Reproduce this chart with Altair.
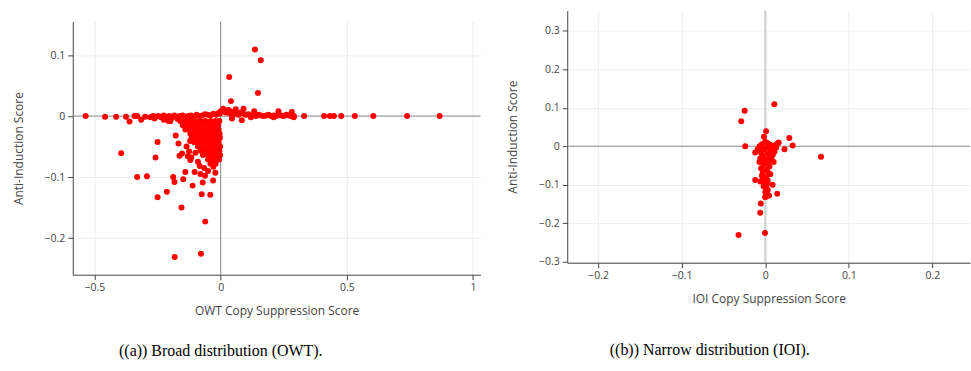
import altair as alt
import pandas as pd

# ---------------- Panel (a): OWT ----------------
owt_x = [
    # left band along y ~ 0
    -0.535, -0.458, -0.414, -0.375, -0.361, -0.341, -0.331, -0.315, -0.299, -0.279,
    -0.268, -0.258, -0.247, -0.236, -0.226, -0.215, -0.204, -0.193, -0.183, -0.172,
    -0.161, -0.150, -0.139, -0.128, -0.117, -0.106, -0.095, -0.084, -0.073, -0.062,
    -0.051, -0.040, -0.029, -0.018, -0.008, -0.262, -0.225, -0.200, -0.170, -0.003, 0.000,
    # right band along y ~ 0
    0.004, 0.012, 0.020, 0.028, 0.036, 0.044, 0.052, 0.060, 0.070, 0.080,
    0.090, 0.100, 0.110, 0.120, 0.130, 0.140, 0.150, 0.160, 0.170, 0.180,
    0.190, 0.200, 0.210, 0.220, 0.230, 0.240, 0.250, 0.260, 0.270, 0.280,
    0.290, 0.331, 0.410, 0.433, 0.449, 0.478, 0.532, 0.605, 0.739, 0.868,
    0.133, 0.091, 0.229, 0.282, 0.084, 0.032, 0.010, 0.060, 0.045, 0.120, 0.210, 0.290,
    # upper outliers
    0.136, 0.159, 0.034, 0.148, 0.041,
    # dense cluster below zero
    -0.200, -0.160, -0.140, -0.120, -0.100, -0.080, -0.060, -0.040, -0.020, -0.005,
    -0.150, -0.130, -0.110, -0.090, -0.070, -0.050, -0.030, -0.010,
    -0.140, -0.125, -0.105, -0.085, -0.065, -0.045, -0.025, -0.008,
    -0.120, -0.100, -0.080, -0.060, -0.040, -0.020, -0.004,
    -0.115, -0.095, -0.075, -0.055, -0.035, -0.015, -0.003,
    -0.105, -0.085, -0.065, -0.045, -0.025, -0.008,
    -0.090, -0.070, -0.050, -0.030, -0.012, -0.002,
    -0.080, -0.060, -0.040, -0.020, -0.005,
    -0.070, -0.050, -0.030, -0.012, -0.002,
    -0.050, -0.035, -0.020, -0.006,
    -0.040, -0.020,
    # scattered points below the cluster
    -0.394, -0.250, -0.258, -0.331, -0.292, -0.178, -0.167, -0.163, -0.153, -0.188,
    -0.183, -0.148, -0.140, -0.213, -0.250, -0.111, -0.103, -0.155, -0.075, -0.041,
    -0.061, -0.182, -0.078, -0.071, -0.030, -0.062, -0.080, -0.021, -0.029, -0.083,
    -0.116, -0.130, -0.120, -0.090, -0.065, -0.050, -0.135, -0.125, -0.100, -0.207,
    -0.126, -0.117, -0.121,
]
owt_y = [
    0.000, -0.001, -0.001, -0.001, -0.009, 0.000, 0.000, -0.006, -0.001, -0.002,
    0.000, -0.001, 0.000, -0.002, 0.001, -0.001, 0.000, -0.003, 0.001, -0.002,
    0.000, 0.001, -0.002, 0.000, 0.001, -0.001, 0.002, 0.000, 0.001, 0.003,
    0.002, 0.001, 0.004, 0.002, 0.005, -0.004, -0.006, -0.008, -0.005, 0.004, 0.008,
    0.008, 0.010, 0.006, 0.009, 0.004, 0.007, 0.003, 0.005, 0.002, 0.006,
    0.004, 0.002, 0.003, 0.001, 0.002, 0.000, 0.002, 0.001, 0.000, 0.001,
    0.002, 0.000, 0.001, 0.000, 0.002, 0.001, 0.000, 0.002, 0.001, 0.000,
    0.000, 0.000, 0.000, 0.000, 0.000, 0.000, 0.000, 0.000, 0.000, 0.000,
    0.008, 0.012, 0.008, 0.0065, -0.007, 0.010, 0.012, 0.011, -0.004, -0.002, -0.002, -0.002,
    0.109, 0.0915, 0.064, 0.038, 0.0245,
    -0.008, -0.008, -0.008, -0.008, -0.008, -0.008, -0.008, -0.008, -0.008, -0.008,
    -0.015, -0.015, -0.015, -0.015, -0.015, -0.015, -0.015, -0.015,
    -0.022, -0.022, -0.022, -0.022, -0.022, -0.022, -0.022, -0.022,
    -0.029, -0.029, -0.029, -0.029, -0.029, -0.029, -0.029,
    -0.036, -0.036, -0.036, -0.036, -0.036, -0.036, -0.036,
    -0.043, -0.043, -0.043, -0.043, -0.043, -0.043,
    -0.050, -0.050, -0.050, -0.050, -0.050, -0.050,
    -0.057, -0.057, -0.057, -0.057, -0.057,
    -0.064, -0.064, -0.064, -0.064, -0.064,
    -0.071, -0.071, -0.071, -0.071,
    -0.078, -0.078,
    -0.061, -0.0425, -0.068, -0.100, -0.0986, -0.032, -0.045, -0.065, -0.0615, -0.100,
    -0.108, -0.1035, -0.0915, -0.124, -0.133, -0.114, -0.0915, -0.150, -0.128, -0.129,
    -0.173, -0.231, -0.2255, -0.109, -0.1057, -0.098, -0.095, -0.093, -0.083, -0.082,
    -0.068, -0.066, -0.072, -0.075, -0.085, -0.090, -0.050, -0.058, -0.060, -0.008,
    -0.022, -0.030, -0.041,
]

# ---------------- Panel (b): IOI ----------------
ioi_x = [
    0.0108, -0.0247, -0.0288, 0.0010, -0.0016, -0.0240, 0.0287, 0.0327, 0.0230, 0.0667,
    0.0160, -0.0120, -0.0068, 0.0100, -0.0070, -0.0120, -0.0060, 0.0087, 0.0143, 0.0000,
    0.0044, -0.0053, -0.0060, -0.0320, -0.0004, 0.0044,
    0.000, 0.003, -0.004, 0.006, 0.012, 0.015, 0.009, -0.006, 0.002, 0.013,
    -0.009, -0.002, 0.007, 0.011, -0.005, 0.003, 0.009, -0.003, 0.005, -0.006,
    0.001, 0.008, -0.004, 0.003, -0.002, 0.005, -0.005, 0.002, -0.003, 0.004,
    0.006, -0.004, 0.001, -0.003, 0.003, -0.001, 0.002, -0.002, 0.001, 0.003,
    0.000, 0.004, 0.000,
]
ioi_y = [
    0.109, 0.0924, 0.0648, 0.039, 0.025, 0.000, 0.0216, 0.0017, -0.0078, -0.0276,
    0.0095, -0.0164, 0.000, -0.041, -0.041, -0.088, -0.0915, -0.100, -0.1235, -0.132,
    -0.128, -0.149, -0.173, -0.2306, -0.2254, -0.073,
    0.012, 0.008, 0.005, 0.004, 0.003, 0.008, 0.000, -0.002, -0.003, -0.004,
    -0.008, -0.009, -0.010, -0.014, -0.017, -0.018, -0.022, -0.025, -0.028, -0.031,
    -0.034, -0.036, -0.040, -0.044, -0.049, -0.053, -0.057, -0.061, -0.066, -0.070,
    -0.073, -0.076, -0.080, -0.085, -0.089, -0.094, -0.099, -0.104, -0.109, -0.114,
    -0.119, -0.128, -0.132,
]

owt_xticks = [-0.5, 0, 0.5, 1]
owt_yticks = [-0.2, -0.1, 0, 0.1]
ioi_xticks = [-0.2, -0.1, 0, 0.1, 0.2]
ioi_yticks = [-0.3, -0.2, -0.1, 0, 0.1, 0.2, 0.3]
zero = [0]

owt_df = pd.DataFrame({"x": owt_x, "y": owt_y})
ioi_df = pd.DataFrame({"x": ioi_x, "y": ioi_y})
zero_df = pd.DataFrame({"x": zero, "y": zero})

RED = "#ff0000"
TXT = "#444444"
MINUS = "replace(datum.label, '-', '\u2212')"


def panel(df, xdom, ydom, xticks, yticks, xtitle, w, h, caption, cap_dx, cap_off, vzero_color, vzero_width):
    xs = alt.Scale(domain=xdom, nice=False, zero=False)
    ys = alt.Scale(domain=ydom, nice=False, zero=False)
    pts = alt.Chart(df).mark_circle(size=36, color=RED, opacity=1).encode(
        x=alt.X("x:Q", scale=xs,
                axis=alt.Axis(values=xticks, format="~g", labelExpr=MINUS, title=xtitle)),
        y=alt.Y("y:Q", scale=ys,
                axis=alt.Axis(values=yticks, format="~g", labelExpr=MINUS, title="Anti-Induction Score")),
    )
    vz = alt.Chart(zero_df).mark_rule(color=vzero_color, strokeWidth=vzero_width).encode(
        x=alt.X("x:Q", scale=xs)
    )
    hz = alt.Chart(zero_df).mark_rule(color="#8c8c8c", strokeWidth=1).encode(
        y=alt.Y("y:Q", scale=ys)
    )
    return alt.layer(vz, hz, pts).properties(
        width=w,
        height=h,
        title=alt.TitleParams(
            text=caption,
            orient="bottom",
            anchor="middle",
            frame="group",
            font="Liberation Serif",
            fontSize=16,
            fontWeight="normal",
            color="black",
            dx=cap_dx,
            offset=cap_off,
        ),
    )


left = panel(owt_df, [-0.586, 1.03], [-0.26, 0.155], owt_xticks, owt_yticks,
             "OWT Copy Suppression Score", 409, 254,
             "((a)) Broad distribution (OWT).", -56, 27, "#8c8c8c", 1)
right = panel(ioi_df, [-0.237, 0.245], [-0.303, 0.353], ioi_xticks, ioi_yticks,
              "IOI Copy Suppression Score", 404, 253,
              "((b)) Narrow distribution (IOI).", -59, 38, "#d0d0d0", 2)

spacer = alt.Chart(pd.DataFrame({"x": zero})).mark_point(opacity=0, size=4).encode(
    x=alt.value(5), y=alt.value(5)
).properties(width=409, height=10)

chart = alt.hconcat(
    alt.vconcat(spacer, left, spacing=0),
    right,
    spacing=25,
).properties(
    padding={"left": 12, "top": 9, "right": 0, "bottom": 0}
).configure_view(stroke=None).configure_axis(
    domainColor=TXT,
    tickColor=TXT,
    tickSize=5,
    labelColor=TXT,
    titleColor=TXT,
    gridColor="#eeeeee",
    labelFont="Open Sans",
    labelFontSize=10.5,
    labelPadding=3,
    titleFont="Open Sans",
    titleFontSize=12,
    titleFontWeight="normal",
).configure_axisX(titlePadding=12).configure_axisY(titlePadding=19)

chart.save("out.html", embed_options={"renderer": "svg", "actions": False})
